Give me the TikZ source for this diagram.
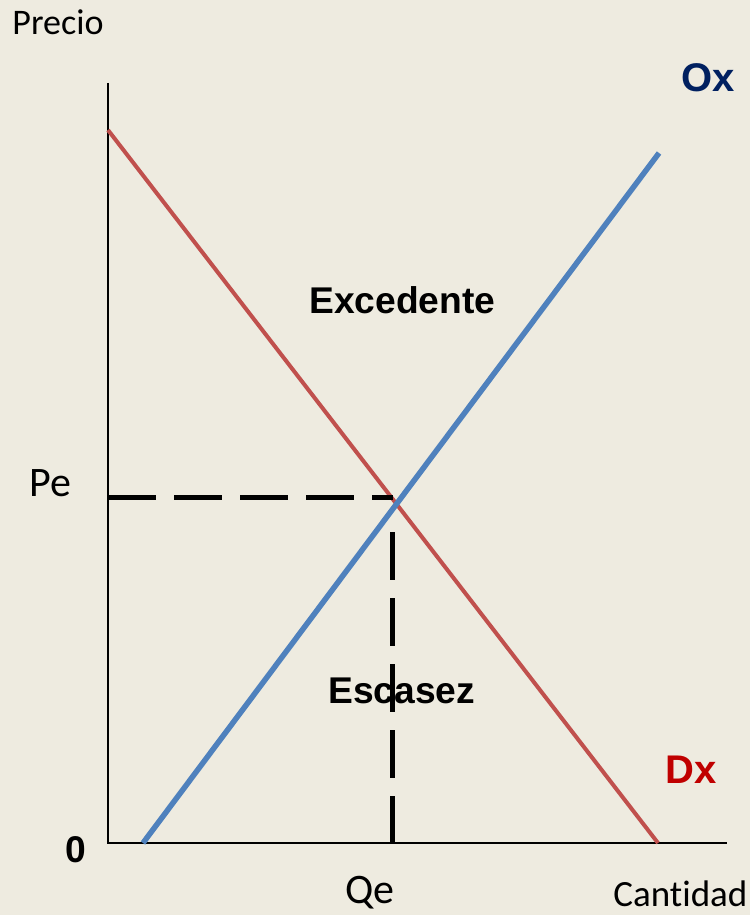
\documentclass[tikz,border=0pt]{standalone}
\usepackage{fontspec}
\setmainfont{Carlito}[Ligatures=NoCommon]
\newfontfamily\arialfont{Liberation Sans}
\definecolor{bgbeige}{HTML}{EEEBE0}
\definecolor{demandred}{HTML}{C0504D}
\definecolor{supplyblue}{HTML}{4F81BD}
\definecolor{oxblue}{HTML}{002060}
\definecolor{dxred}{HTML}{C00000}
\begin{document}
\begin{tikzpicture}[x=0.5pt,y=-0.5pt,
        axis/.style={line width=1pt,black},
        demand/.style={line width=2pt,demandred},
        supply/.style={line width=2.75pt,supplyblue},
        guide/.style={line width=2.5pt,black,dash pattern=on 23.75pt off 9.25pt},
        lbl/.style={inner sep=0pt,anchor=base west},
        axislbl/.style={lbl,font=\fontsize{18}{22}\selectfont},
        eqlbl/.style={lbl,font=\fontsize{21}{25}\selectfont},
        boldlbl/.style={lbl,font=\arialfont\bfseries\fontsize{18.6}{23}\selectfont}]

    \fill[bgbeige] (0,0) rectangle (750,915);
    \useasboundingbox (0,0) rectangle (750,915);

    % axes
    \coordinate (O) at (108,843);
    \coordinate (ytop) at (108,83);
    \coordinate (xend) at (727,843);
    \draw[axis] (ytop) -- (O) -- (xend);

    % curves
    \coordinate (d1) at (108,130);
    \coordinate (d2) at (658,843);
    \coordinate (s1) at (143,843);
    \coordinate (s2) at (659,153);
    \draw[demand] (d1) -- (d2);
    \draw[supply] (s1) -- (s2);

    % labels
    \node[axislbl] (precio) at (12,35) {Precio};
    \node[axislbl,font=\fontsize{18.5}{22}\selectfont] (cantidad) at (613,906) {Cantidad};
    \node[eqlbl] (pe) at (29,496) {Pe};
    \node[eqlbl] (qe) at (345,903) {Qe};
    \node[boldlbl] (zero) at (65,862) {0};
    \node[boldlbl] (exc) at (309,313) {Excedente};
    \node[boldlbl] (esc) at (328,703) {Escasez};
    \node[boldlbl,font=\arialfont\bfseries\fontsize{20}{24}\selectfont,oxblue] (ox) at (681,92) {Ox};
    \node[boldlbl,font=\arialfont\bfseries\fontsize{20}{24}\selectfont,dxred] (dx) at (665,783) {Dx};

    % equilibrium guides
    \coordinate (pey) at (108,497.5);
    \coordinate (eq) at (393,497.5);
    \coordinate (qetop) at (392,532);
    \coordinate (qex) at (392,843);
    \draw[guide] (pey) -- (eq);
    \draw[guide] (qetop) -- (qex);
\end{tikzpicture}
\end{document}
